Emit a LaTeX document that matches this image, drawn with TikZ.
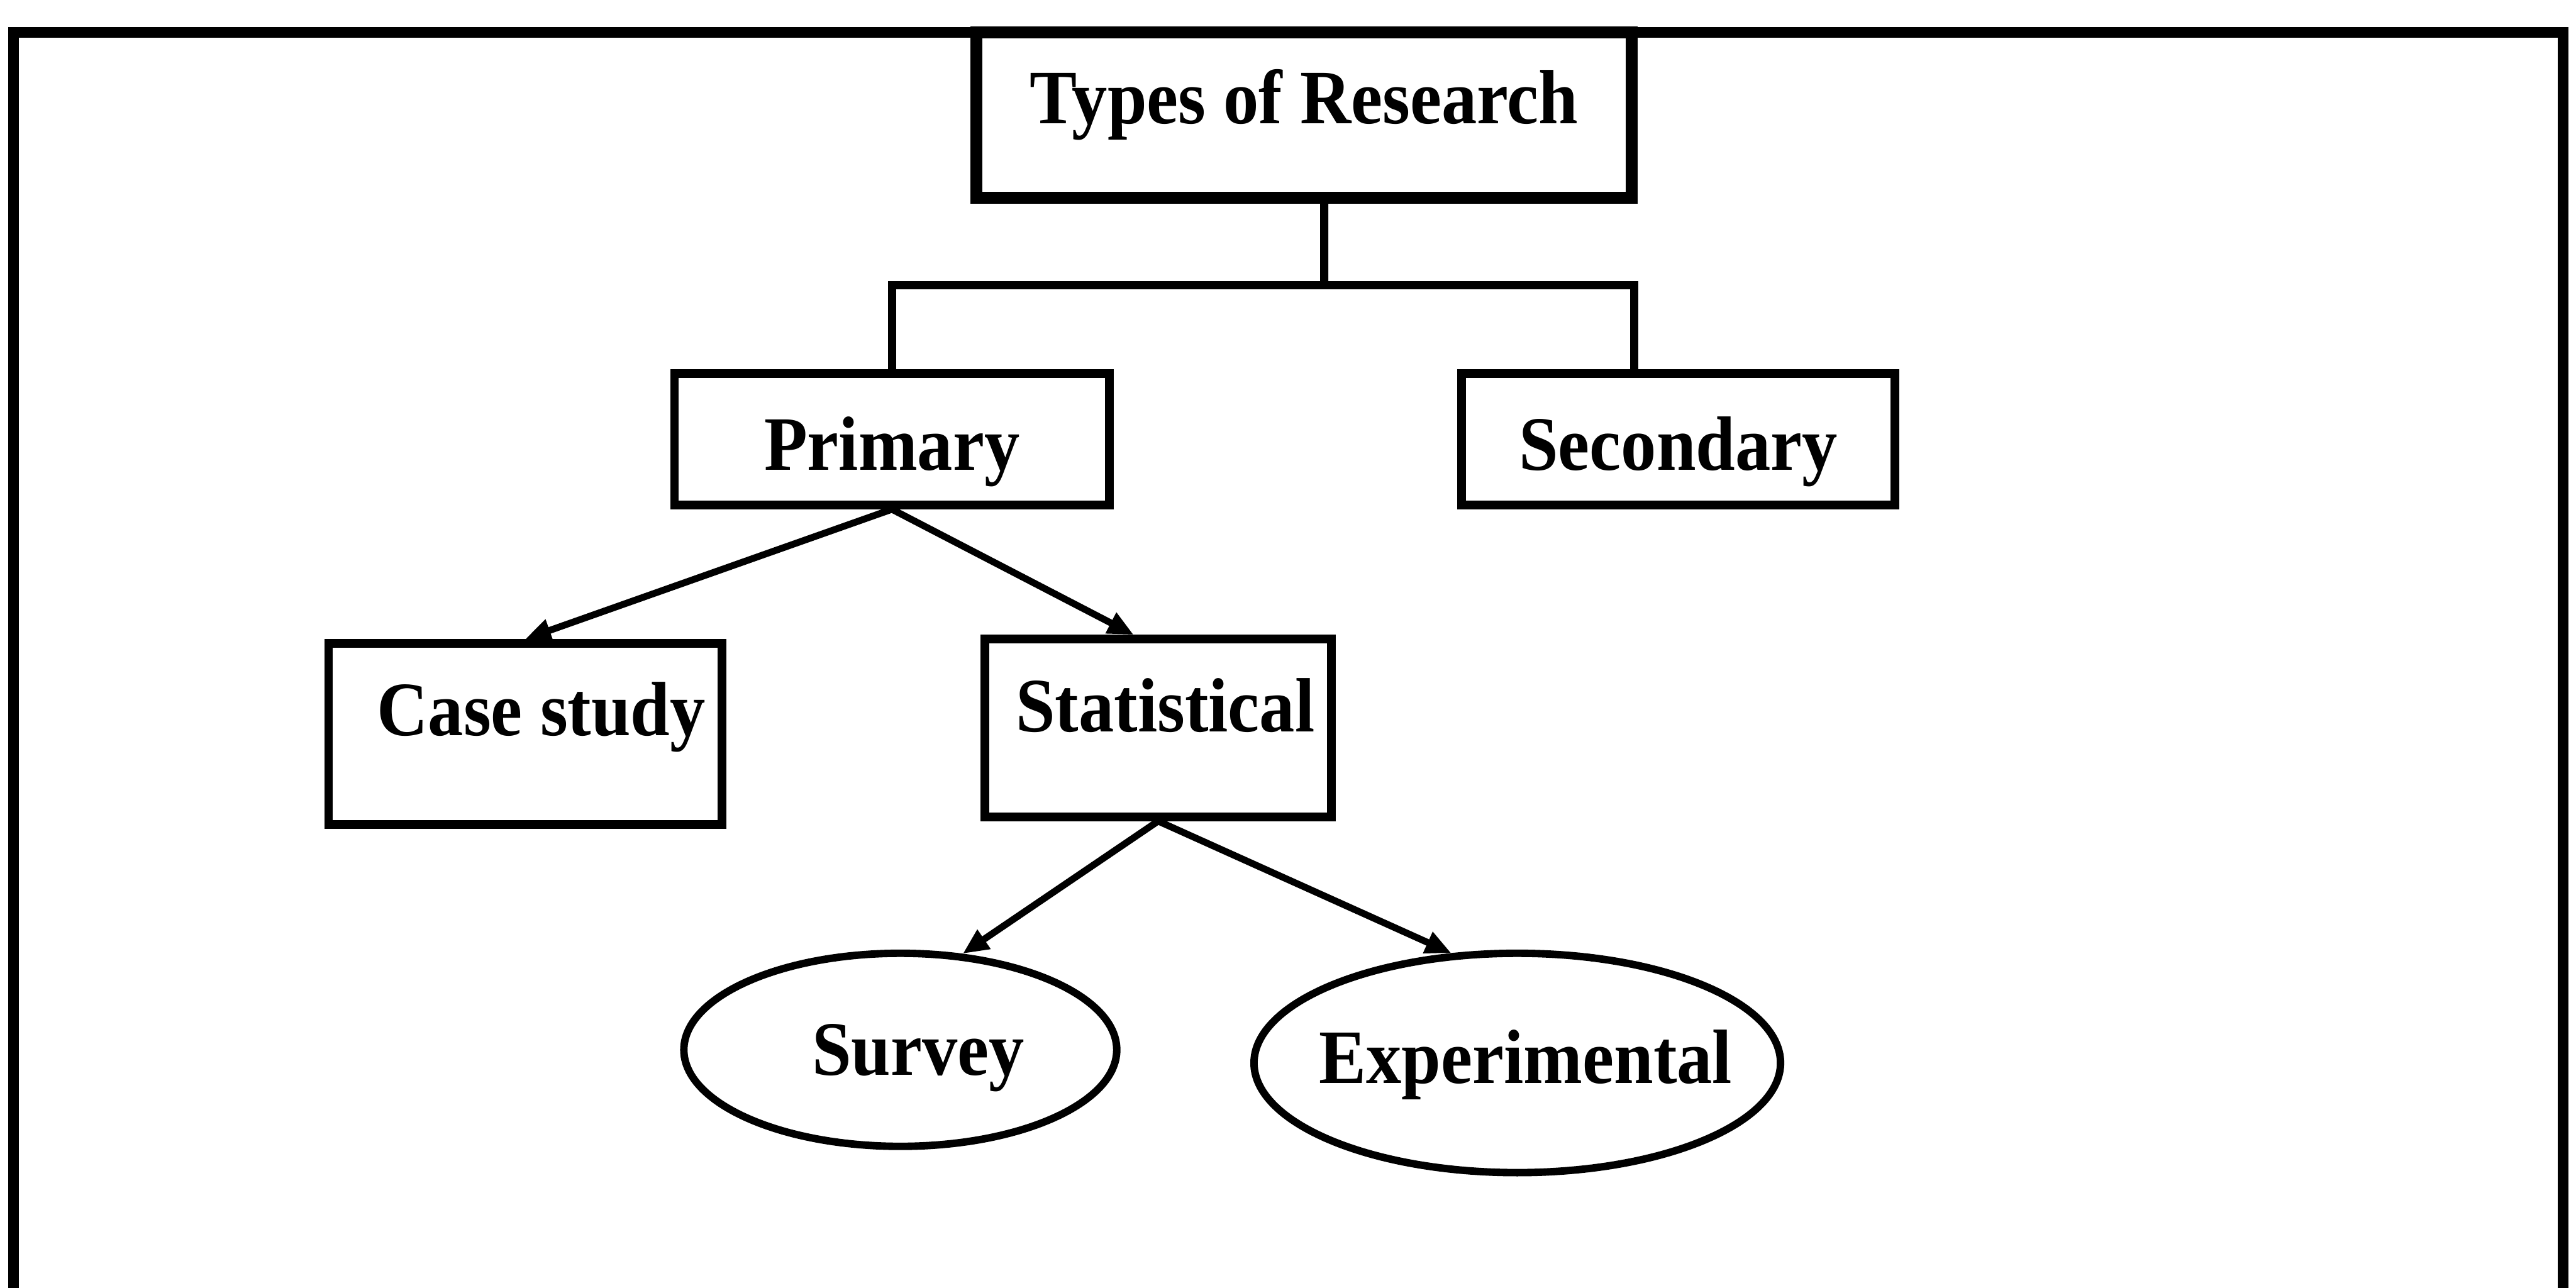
\documentclass[tikz,border=0pt]{standalone}
\usepackage{fontspec}
\setmainfont{Liberation Serif}[FakeStretch=0.92]
\usetikzlibrary{arrows.meta,shapes.geometric}
\begin{document}
\begin{tikzpicture}[
    box/.style={draw, line width=1.9pt, inner sep=0pt, text height=0.39cm, font=\bfseries\fontsize{17}{20}\selectfont},
    oval/.style={box, ellipse, line width=1.65pt},
    link/.style={line width=1.8pt},
    branch/.style={line width=1.5pt, -{Triangle[length=0.2cm,width=0.17cm]}}]
    \useasboundingbox (0,0) rectangle (20,10);
    \draw[line width=2.4pt] (0.106,0) -- (0.106,9.749) -- (19.9,9.749) -- (19.9,0);
    \node[box, line width=2.6pt, minimum width=5.09cm, minimum height=1.284cm, text depth=0.255cm] (types) at (10.125,9.107) {Types of Research};
    \node[box, minimum width=3.375cm, minimum height=1.022cm, text height=0.48cm, text depth=0cm] (prim) at (6.925,6.59) {Primary};
    \node[box, minimum width=3.365cm, minimum height=1.022cm, text height=0.48cm, text depth=0cm] (sec) at (13.03,6.59) {Secondary};
    \node[box, minimum width=3.052cm, minimum height=1.408cm, text depth=0.37cm] (case) at (4.078,4.301) {\hspace*{0.25cm}Case study};
    \node[box, minimum width=2.689cm, minimum height=1.38cm, text depth=0.33cm] (stat) at (8.992,4.348) {\hspace*{0.11cm}Statistical};
    \node[oval, minimum width=3.361cm, minimum height=1.499cm, text depth=0cm] (survey) at (6.99,1.849) {\makebox[0pt]{\hspace*{0.28cm}Survey}};
    \node[oval, minimum width=4.088cm, minimum height=1.703cm, text depth=0.077cm] (exper) at (11.78,1.747) {\makebox[0pt]{\hspace*{0.13cm}Experimental}};
    \coordinate (split) at (10.281,7.784);
    \draw[link] ([xshift=0.156cm]types.south) -- (split);
    \draw[link] (prim.north) |- (split) -| ([xshift=-0.343cm]sec.north);
    \draw[branch] (prim.south) -- (case.north);
    \draw[branch] (prim.south) -- ([xshift=-0.19cm]stat.north);
    \draw[branch] (stat.south) -- (survey.57);
    \draw[branch] (stat.south) -- (exper.121);
\end{tikzpicture}
\end{document}
